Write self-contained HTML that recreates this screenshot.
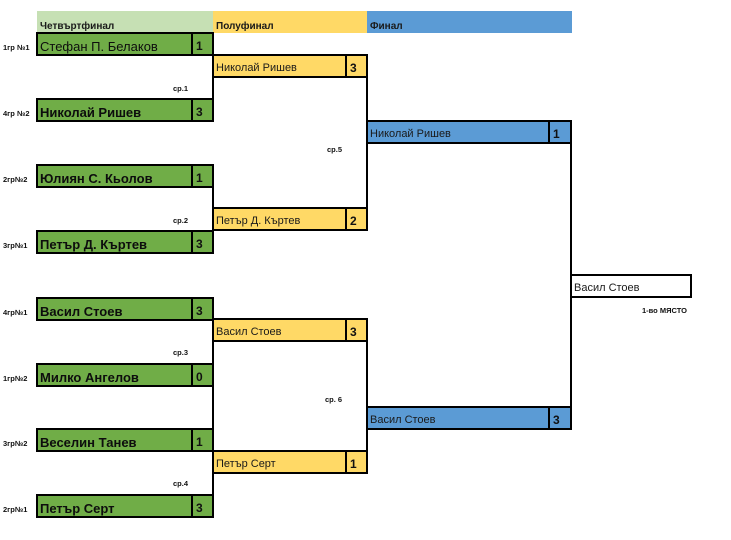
<!DOCTYPE html>
<html><head><meta charset="utf-8"><style>
html,body{margin:0;padding:0;background:#fff;}
body{width:731px;height:540px;position:relative;overflow:hidden;font-family:"Liberation Sans","Noto Sans CJK SC",sans-serif;color:#111;}
.a{position:absolute;box-sizing:border-box;}
.hd{position:absolute;top:11px;height:22px;font-size:10px;font-weight:bold;line-height:31px;padding-left:3px;box-sizing:border-box;color:#1a1a1a;}
.bx{position:absolute;box-sizing:border-box;border:2px solid #000;height:24px;overflow:hidden;white-space:nowrap;}
.g{background:#70ad47;left:36px;width:178px;}
.y{background:#ffd966;left:212px;width:156px;}
.b{background:#5b9bd5;left:366px;width:206px;}
.nm{position:absolute;left:2px;top:0;line-height:24px;}
.g .nm{font-size:13px;font-weight:bold;line-height:25px;color:#0d0d0d;}
.g .nm.r{font-weight:normal;}
.y .nm,.b .nm,.w .nm{font-size:11px;line-height:25px;color:#1a1a1a;}
.sc{position:absolute;top:-2px;bottom:-2px;border-left:2px solid #000;font-weight:bold;padding-left:3px;box-sizing:border-box;}
.g .sc{left:153px;width:23px;font-size:12px;line-height:28px;}
.y .sc{left:131px;width:23px;font-size:12px;line-height:28px;}
.b .sc{left:180px;width:24px;font-size:12px;line-height:28px;}
.vl{position:absolute;width:2px;background:#000;}
.lb{position:absolute;font-size:7.5px;font-weight:bold;white-space:nowrap;color:#111;}
</style></head><body>

<div class="hd" style="left:37px;width:176px;background:#c6e0b4;">Четвъртфинал</div>
<div class="hd" style="left:213px;width:154px;background:#ffd966;">Полуфинал</div>
<div class="hd" style="left:367px;width:205px;background:#5b9bd5;">Финал</div>

<!-- connector lines -->
<div class="vl" style="left:212px;top:55px;height:44px;"></div>
<div class="vl" style="left:212px;top:187px;height:44px;"></div>
<div class="vl" style="left:212px;top:319px;height:176px;"></div>
<div class="vl" style="left:366px;top:77px;height:131px;"></div>
<div class="vl" style="left:366px;top:341px;height:110px;"></div>
<div class="vl" style="left:570px;top:143px;height:264px;"></div>

<!-- quarterfinal -->
<div class="bx g" style="top:32px;"><span class="nm r">Стефан П. Белаков</span><span class="sc">1</span></div>
<div class="bx g" style="top:98px;"><span class="nm">Николай Ришев</span><span class="sc">3</span></div>
<div class="bx g" style="top:164px;"><span class="nm">Юлиян С. Кьолов</span><span class="sc">1</span></div>
<div class="bx g" style="top:230px;"><span class="nm">Петър Д. Къртев</span><span class="sc">3</span></div>
<div class="bx g" style="top:297px;"><span class="nm">Васил Стоев</span><span class="sc">3</span></div>
<div class="bx g" style="top:363px;"><span class="nm">Милко Ангелов</span><span class="sc">0</span></div>
<div class="bx g" style="top:428px;"><span class="nm">Веселин Танев</span><span class="sc">1</span></div>
<div class="bx g" style="top:494px;"><span class="nm">Петър Серт</span><span class="sc">3</span></div>

<!-- semifinal -->
<div class="bx y" style="top:54px;"><span class="nm">Николай Ришев</span><span class="sc">3</span></div>
<div class="bx y" style="top:207px;"><span class="nm">Петър Д. Къртев</span><span class="sc">2</span></div>
<div class="bx y" style="top:318px;"><span class="nm">Васил Стоев</span><span class="sc">3</span></div>
<div class="bx y" style="top:450px;"><span class="nm">Петър Серт</span><span class="sc">1</span></div>

<!-- final -->
<div class="bx b" style="top:120px;"><span class="nm">Николай Ришев</span><span class="sc">1</span></div>
<div class="bx b" style="top:406px;"><span class="nm">Васил Стоев</span><span class="sc">3</span></div>

<!-- winner -->
<div class="bx w" style="top:274px;left:570px;width:122px;background:#fff;"><span class="nm">Васил Стоев</span></div>

<!-- left labels -->
<div class="lb" style="left:3px;top:43px;">1гр №1</div>
<div class="lb" style="left:3px;top:109px;">4гр №2</div>
<div class="lb" style="left:3px;top:175px;">2гр№2</div>
<div class="lb" style="left:3px;top:241px;">3гр№1</div>
<div class="lb" style="left:3px;top:308px;">4гр№1</div>
<div class="lb" style="left:3px;top:374px;">1гр№2</div>
<div class="lb" style="left:3px;top:439px;">3гр№2</div>
<div class="lb" style="left:3px;top:505px;">2гр№1</div>

<!-- match labels -->
<div class="lb" style="left:173px;top:84px;">ср.1</div>
<div class="lb" style="left:173px;top:216px;">ср.2</div>
<div class="lb" style="left:173px;top:348px;">ср.3</div>
<div class="lb" style="left:173px;top:479px;">ср.4</div>
<div class="lb" style="left:327px;top:145px;">ср.5</div>
<div class="lb" style="left:325px;top:395px;">ср. 6</div>
<div class="lb" style="left:642px;top:306px;">1-во МЯСТО</div>

</body></html>
